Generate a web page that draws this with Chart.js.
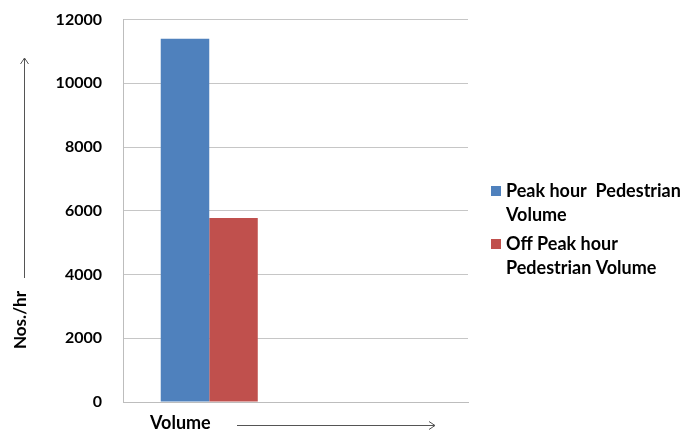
<!DOCTYPE html>
<html>
<head>
<meta charset="utf-8">
<script src="https://cdn.jsdelivr.net/npm/chart.js@4/dist/chart.umd.min.js"></script>
<style>
  html, body { margin: 0; padding: 0; background: #fff; }
  #wrap { width: 682px; height: 431px; position: relative; }
</style>
</head>
<body>
<div id="wrap"><canvas id="chart"></canvas></div>
<script>
// Categories on the x axis (second slot left empty)
const categories = ['Volume', ''];
// Pedestrian volumes, Nos./hr
const peakHourVolume = [11400, null];
const offPeakHourVolume = [5770, null];
// Legend wording, split into its two lines
const peakLabelLines = ['Peak hour  Pedestrian', 'Volume'];
const offPeakLabelLines = ['Off Peak hour', 'Pedestrian Volume'];
const yAxisTitle = 'Nos./hr';
const xAxisTitle = 'Volume';

const FONT = 'Lato, "Open Sans", sans-serif';
const BLUE = '#4f81bd';
const RED = '#c0504d';

// Axis titles with arrows, plus a two-line legend on the right
const decorations = {
  id: 'decorations',
  afterDraw(chart) {
    const ctx = chart.ctx;
    ctx.save();
    ctx.fillStyle = '#000';
    ctx.strokeStyle = '#555';
    ctx.lineWidth = 1;

    // y axis title, rotated
    ctx.font = 'bold 17px ' + FONT;
    ctx.save();
    ctx.translate(21, 320);
    ctx.rotate(-Math.PI / 2);
    ctx.textAlign = 'center';
    ctx.textBaseline = 'middle';
    ctx.fillText(yAxisTitle, 0, 0);
    ctx.restore();

    // upward arrow
    ctx.beginPath();
    ctx.moveTo(24.5, 278);
    ctx.lineTo(24.5, 58);
    ctx.moveTo(20.5, 64);
    ctx.lineTo(24.5, 58);
    ctx.lineTo(28.5, 64);
    ctx.stroke();

    // x axis title
    ctx.font = 'bold 18px ' + FONT;
    ctx.textAlign = 'left';
    ctx.textBaseline = 'middle';
    ctx.fillText(xAxisTitle, 150, 423);

    // rightward arrow
    ctx.beginPath();
    ctx.moveTo(237, 425.5);
    ctx.lineTo(435, 425.5);
    ctx.moveTo(429, 421.5);
    ctx.lineTo(435, 425.5);
    ctx.lineTo(429, 429.5);
    ctx.stroke();

    // legend
    const entries = [
      { color: BLUE, lines: peakLabelLines, y: 191 },
      { color: RED, lines: offPeakLabelLines, y: 244 }
    ];
    ctx.font = 'bold 18px ' + FONT;
    entries.forEach(e => {
      ctx.fillStyle = e.color;
      ctx.fillRect(491, e.y - 5, 10, 10);
      ctx.fillStyle = '#000';
      e.lines.forEach((line, i) => {
        ctx.fillText(line, 506, e.y + i * 24);
      });
    });
    ctx.restore();
  }
};

new Chart(document.getElementById('chart'), {
  type: 'bar',
  data: {
    labels: categories,
    datasets: [
      { label: peakLabelLines.join(' '), data: peakHourVolume, backgroundColor: BLUE, borderWidth: 0 },
      { label: offPeakLabelLines.join(' '), data: offPeakHourVolume, backgroundColor: RED, borderWidth: 0 }
    ]
  },
  options: {
    responsive: true,
    maintainAspectRatio: false,
    animation: false,
    layout: { padding: { left: 0, top: 19.5, right: 214, bottom: 29 } },
    datasets: { bar: { categoryPercentage: 0.5625, barPercentage: 1 } },
    plugins: { legend: { display: false }, tooltip: { enabled: false } },
    scales: {
      x: {
        ticks: { display: false },
        grid: { display: false, drawTicks: false },
        border: { display: true, color: '#bdbdbd', width: 1 },
        afterFit(scale) {
          scale.height = 0;
          scale.paddingLeft = 0;
          scale.paddingRight = 0;
        }
      },
      y: {
        min: 0,
        max: 12000,
        ticks: {
          stepSize: 2000,
          padding: 21,
          color: '#000',
          font: { family: FONT, size: 16, weight: 'bold' },
          callback: v => String(v)
        },
        grid: { color: '#c6c6c6', lineWidth: 1, drawTicks: false },
        border: { display: true, color: '#bdbdbd', width: 1 },
        afterFit(scale) {
          scale.width = 123;
          scale.paddingTop = 0;
          scale.paddingBottom = 0;
        }
      }
    }
  },
  plugins: [decorations]
});
</script>
</body>
</html>
